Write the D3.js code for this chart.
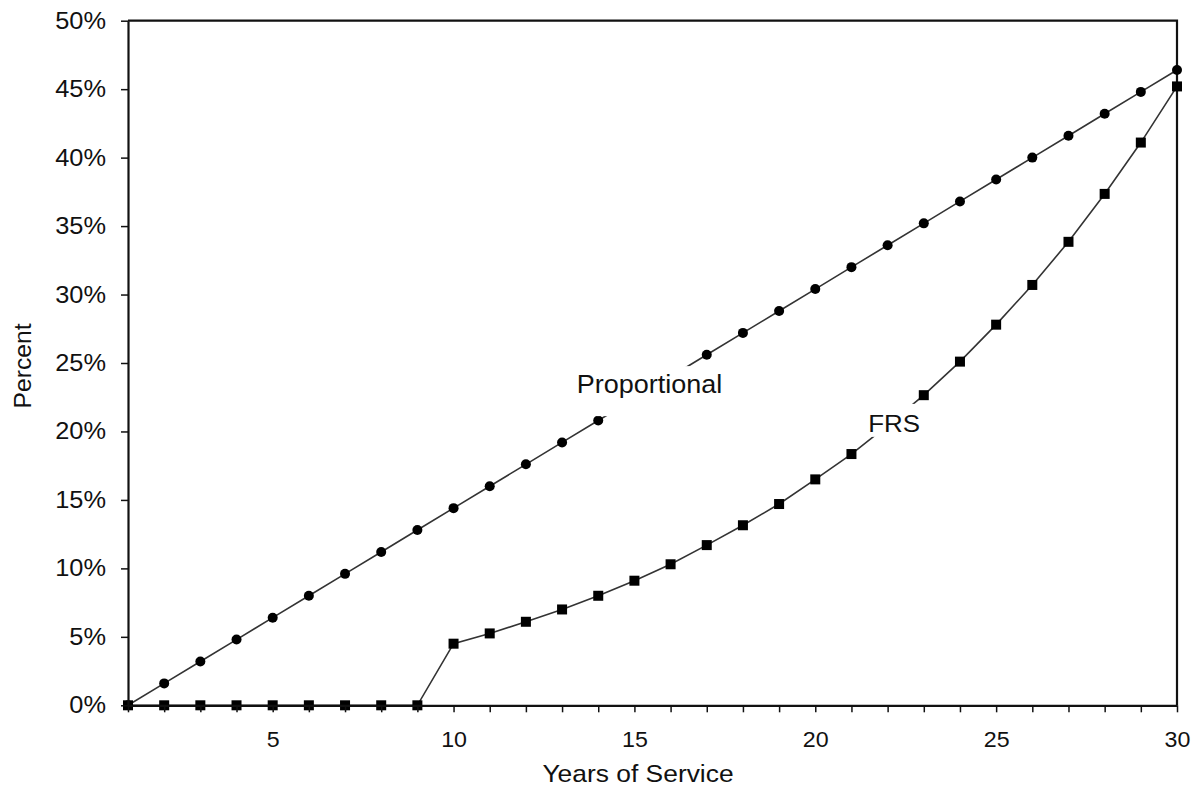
<!DOCTYPE html>
<html><head><meta charset="utf-8">
<script src="https://cdn.jsdelivr.net/npm/d3@7"></script>
<style>
body{margin:0;background:#fff}
text{font-family:"Liberation Sans",Arial,Helvetica,sans-serif;fill:#111}
</style>
</head><body>
<svg id="chart" width="1191" height="788"></svg>
<script>
// ---- data ----
const years = [1,2,3,4,5,6,7,8,9,10,11,12,13,14,15,16,17,18,19,20,21,22,23,24,25,26,27,28,29,30];
const proportional = [0,1.6,3.2,4.8,6.4,8.0,9.6,11.2,12.8,14.4,16.0,17.6,19.2,20.8,22.4,24.0,25.6,27.2,28.8,30.4,32.0,33.6,35.2,36.8,38.4,40.0,41.6,43.2,44.8,46.4];
const frs = [0,0,0,0,0,0,0,0,0,4.5,5.25,6.1,7.0,8.0,9.1,10.3,11.7,13.15,14.7,16.5,18.35,20.45,22.65,25.1,27.8,30.7,33.85,37.35,41.1,45.2];
const xTickLabels = [5,10,15,20,25,30];
const yTicks = [0,5,10,15,20,25,30,35,40,45,50];
const seriesNames = ["Proportional","FRS"];
const xTitle = "Years of Service";
const yTitle = "Percent";

// ---- layout ----
const svg = d3.select("#chart");
const x = d3.scaleLinear().domain([1,30]).range([128,1177]);
const y = d3.scaleLinear().domain([0,50]).range([705.3,20.7]);
const SX = 1.08; // horizontal stretch of scanned glyphs

svg.append("rect").attr("width",1191).attr("height",788).attr("fill","#fff");

// plot border (top & right)
svg.append("path")
  .attr("d",`M${x(1)},${y(50)}H${x(30)}V${y(0)}`)
  .attr("fill","none").attr("stroke","#111").attr("stroke-width",2.2);

// series lines
const line = d3.line().x((d,i)=>x(years[i])).y(d=>y(d));
svg.append("path").datum(proportional).attr("d",line)
  .attr("fill","none").attr("stroke","#333").attr("stroke-width",1.6);
svg.append("path").datum(frs).attr("d",line)
  .attr("fill","none").attr("stroke","#333").attr("stroke-width",1.6);

// markers
svg.append("g").selectAll("circle").data(proportional).join("circle")
  .attr("cx",(d,i)=>x(years[i])).attr("cy",d=>y(d)).attr("r",5).attr("fill","#000");
const sq = 10;
svg.append("g").selectAll("rect").data(frs).join("rect")
  .attr("x",(d,i)=>x(years[i])-sq/2).attr("y",d=>y(d)-sq/2)
  .attr("width",sq).attr("height",sq).attr("fill","#000");

// axes
const xAxis = d3.axisBottom(x).tickValues(years)
  .tickFormat(d=>xTickLabels.includes(d)?d:"").tickSizeInner(7).tickSizeOuter(0).tickPadding(19);
const gx = svg.append("g").attr("transform",`translate(0,${y(0)})`).call(xAxis);
gx.select(".domain").attr("stroke","#111").attr("stroke-width",2.2);
gx.selectAll(".tick line").attr("stroke","#111").attr("stroke-width",1.5);
gx.selectAll(".tick text").attr("font-size",21.5).attr("fill","#111")
  .attr("transform",`scale(${SX},1)`).attr("x",0);

const yAxis = d3.axisLeft(y).tickValues(yTicks).tickFormat(d=>d+"%")
  .tickSizeInner(7).tickSizeOuter(0).tickPadding(15);
const gy = svg.append("g").attr("transform",`translate(${x(1)},0)`).call(yAxis);
gy.select(".domain").attr("stroke","#111").attr("stroke-width",2.2);
gy.selectAll(".tick line").attr("stroke","#111").attr("stroke-width",1.5);
gy.selectAll(".tick text").attr("font-size",23.5).attr("fill","#111")
  .each(function(){
    const t = d3.select(this);
    const xx = +t.attr("x");
    t.attr("x",xx/SX).attr("transform",`scale(${SX},1)`);
  });

// series labels with white boxes masking the lines
function seriesLabel(text, cxYear, baseVal, box, fs){
  const cx = x(cxYear), cy = y(baseVal);
  svg.append("rect").attr("x",cx+box[0]).attr("y",cy+box[1])
    .attr("width",box[2]).attr("height",box[3]).attr("fill","#fff");
  svg.append("text").attr("transform",`translate(${cx},${cy}) scale(${SX},1)`)
    .attr("text-anchor","middle").attr("font-size",fs).text(text);
}
seriesLabel(seriesNames[0], 15.42, 22.8, [-77.5,-27,153,50], 25);
seriesLabel(seriesNames[1], 22.18, 19.97, [-30,-28,60,33], 24);

// axis titles
svg.append("text").attr("transform",`translate(638,782) scale(1.1,1)`)
  .attr("text-anchor","middle").attr("font-size",24).text(xTitle);
svg.append("text").attr("transform",`translate(31,366) rotate(-90) scale(1.05,1)`)
  .attr("text-anchor","middle").attr("font-size",23.5).text(yTitle);
</script>
</body></html>
